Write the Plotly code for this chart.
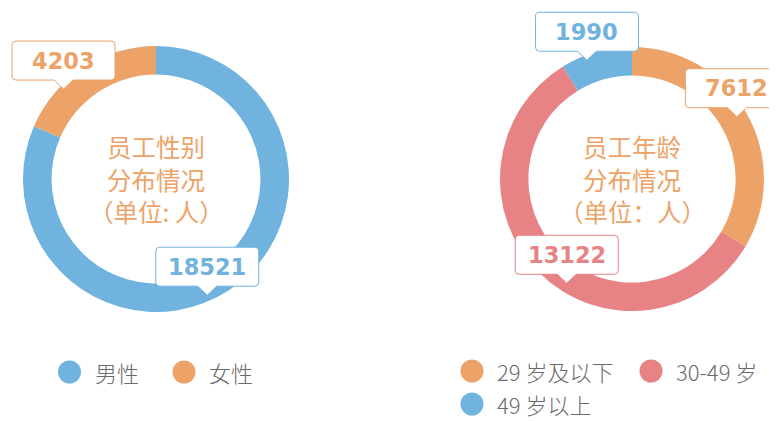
import math
import plotly.graph_objects as go

# page is 777x421; browser body margin of 8px shifts the figure
OFF = 8
W, H = 777 - OFF, 421 - OFF

# ---- data ----
gender_labels = ["男性", "女性"]
gender_values = [18521, 4203]
gender_colors = ["#6fb3de", "#eda367"]
gender_title = ["员工性别", "分布情况", "（单位: 人）"]

age_labels = ["29 岁及以下", "30-49 岁", "49 岁以上"]
age_values = [7612, 13122, 1990]
age_colors = ["#eda367", "#e78385", "#6fb3de"]
age_title = ["员工年龄", "分布情况", "（单位：人）"]

# ---- layout / style (page pixel positions) ----
donuts = [
    dict(labels=gender_labels, values=gender_values, colors=gender_colors, title=gender_title,
         cx=156, cy=179, r=133,
         callout=[(9.5, 127), (-12.5, 129)],
         legend=[(69.5, 372), (184, 372)]),
    dict(labels=age_labels, values=age_values, colors=age_colors, title=age_title,
         cx=632, cy=179, r=132,
         callout=[(-1, 122), (-12.5, 123), (-5, 127)],
         legend=[(472, 371), (651, 371), (472, 404)]),
]
HOLE = 0.785
CJK = "Noto Sans CJK SC, Noto Sans, sans-serif"
LEG = "DejaVu Sans ExtraLight, Noto Sans CJK SC, sans-serif"
NUM = "DejaVu Sans, Noto Sans CJK SC, sans-serif"

BW, BH, PH, PW, RAD = 103, 39, 9, 9.5, 4


def bubble_path():
    l, r = -BW / 2, BW / 2
    b, t = PH, PH + BH
    return (f"M 0,0 L {-PW},{b} L {l+RAD},{b} Q {l},{b} {l},{b+RAD} "
            f"L {l},{t-RAD} Q {l},{t} {l+RAD},{t} L {r-RAD},{t} Q {r},{t} {r},{t-RAD} "
            f"L {r},{b+RAD} Q {r},{b} {r-RAD},{b} L {PW},{b} Z")


def px(x):
    return (x - OFF) / W


def py(y):
    return 1 - (y - OFF) / H


fig = go.Figure()
shapes = []
annotations = []

for d in donuts:
    cx, cy, r = d["cx"], d["cy"], d["r"]
    fig.add_trace(go.Pie(
        labels=d["labels"], values=d["values"],
        marker=dict(colors=d["colors"], line=dict(width=0)),
        hole=HOLE, sort=False, direction="clockwise", rotation=0,
        textinfo="none", hoverinfo="label+value", showlegend=False,
        domain=dict(x=[px(cx - r), px(cx + r)], y=[py(cy + r), py(cy - r)]),
    ))

    # center title lines
    for i, line in enumerate(d["title"]):
        annotations.append(dict(
            x=px(cx), y=py(cy - 32.5 + 32.5 * i), xref="paper", yref="paper",
            text=line, showarrow=False, xanchor="center", yanchor="middle",
            font=dict(family=CJK, size=24.5, color="#eda367"),
        ))

    # callouts
    total = sum(d["values"])
    acc = 0
    for v, col, (nudge, rr) in zip(d["values"], d["colors"], d["callout"]):
        mid = (acc + v / 2) / total * 360 + nudge
        acc += v
        tx = cx + rr * math.sin(math.radians(mid))
        ty = cy - rr * math.cos(math.radians(mid))
        shapes.append(dict(
            type="path", xref="paper", yref="paper",
            xsizemode="pixel", ysizemode="pixel",
            xanchor=px(tx), yanchor=py(ty), path=bubble_path(),
            fillcolor="white", line=dict(color=col, width=1), layer="above",
        ))
        annotations.append(dict(
            x=px(tx), y=py(ty), xref="paper", yref="paper", yshift=PH + BH / 2,
            text=f"<b>{v}</b>", showarrow=False, xanchor="center", yanchor="middle",
            font=dict(family=NUM, size=22.5, color=col),
        ))

    # legend
    for lab, col, (lx, ly) in zip(d["labels"], d["colors"], d["legend"]):
        shapes.append(dict(
            type="circle", xref="paper", yref="paper",
            xsizemode="pixel", ysizemode="pixel",
            xanchor=px(lx), yanchor=py(ly), x0=-11.5, x1=11.5, y0=-11.5, y1=11.5,
            fillcolor=col, line=dict(width=0),
        ))
        annotations.append(dict(
            x=px(lx + 23), y=py(ly), xref="paper", yref="paper",
            text=lab, showarrow=False, xanchor="left", yanchor="middle",
            font=dict(family=LEG, size=22, color="#6a6a6a", weight=300),
        ))

fig.update_layout(
    width=W, height=H, margin=dict(l=0, r=0, t=0, b=0),
    paper_bgcolor="white", plot_bgcolor="white",
    shapes=shapes, annotations=annotations,
)
fig.write_html("out.html")
